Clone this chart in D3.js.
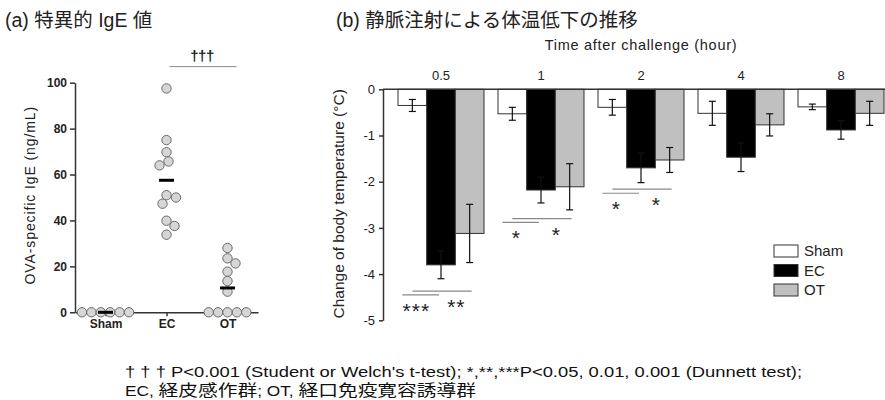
<!DOCTYPE html>
<html>
<head>
<meta charset="utf-8">
<script src="https://cdn.jsdelivr.net/npm/d3@7"></script>
<style>
  html, body { margin: 0; padding: 0; background: #fff; }
  svg { display: block; font-family: "Liberation Sans", Arial, "Noto Sans CJK JP", sans-serif; }
</style>
</head>
<body>
<svg id="chart" width="885" height="400"></svg>
<script>
// (a) OVA-specific IgE, one value per animal
const igeGroups = ["Sham", "EC", "OT"];
const igeSham = [0, 0, 0, 0, 0, 0];
const igeEC = [97.5, 75, 69.7, 65.7, 64, 51, 50, 47.3, 39.9, 37.6, 33.8];
const igeOT = [28, 23.5, 21.3, 17.7, 13.6, 9, 0, 0, 0, 0, 0];
const igeMeans = [0, 57.5, 10.6];
const igeTicks = [0, 20, 40, 60, 80, 100];

// (b) change of body temperature after challenge
const hours = ["0.5", "1", "2", "4", "8"];
const series = ["Sham", "EC", "OT"];
const tempSham = [-0.35, -0.53, -0.39, -0.52, -0.38];
const tempEC = [-3.80, -2.18, -1.70, -1.47, -0.88];
const tempOT = [-3.12, -2.11, -1.53, -0.77, -0.52];
const semSham = [0.13, 0.14, 0.17, 0.26, 0.06];
const semEC = [0.30, 0.28, 0.32, 0.31, 0.20];
const semOT = [0.63, 0.50, 0.27, 0.24, 0.26];
const tempTicks = [0, -1, -2, -3, -4, -5];

// Dunnett comparisons vs Sham (bracket level in °C)
const sigHours = ["0.5", "0.5", "1", "1", "2", "2"];
const sigTarget = ["EC", "OT", "EC", "OT", "EC", "OT"];
const sigLabel = ["***", "**", "*", "*", "*", "*"];
const sigLevel = [-4.45, -4.37, -2.88, -2.80, -2.25, -2.16];

const svg = d3.select("#chart");
const ink = "#222";

// ---------- panel (a) ----------
svg.append("text")
  .attr("x", 5).attr("y", 27)
  .attr("font-size", 19.5).attr("fill", ink)
  .text("(a) 特異的 IgE 値");

const xa = d3.scalePoint().domain(igeGroups).range([75, 258]).padding(0.5);
const ya = d3.scaleLinear().domain([0, 100]).range([312.3, 82.7]);
const dotR = 4.7;

const gA = svg.append("g");

gA.append("g")
  .attr("transform", "translate(75,0)")
  .call(d3.axisLeft(ya).tickValues(igeTicks).tickSize(5).tickSizeOuter(0).tickPadding(3))
  .call((g) => g.selectAll("path,line").attr("stroke", "#333").attr("stroke-width", 1.5))
  .call((g) => g.selectAll("text").attr("font-size", 12).attr("fill", ink)
    .attr("font-family", "Liberation Sans, Arial").attr("font-weight", "bold"));

gA.append("g")
  .attr("transform", `translate(0,${ya(0)})`)
  .call(d3.axisBottom(xa).tickSize(4).tickSizeOuter(0).tickPadding(3))
  .call((g) => g.selectAll("path,line").attr("stroke", "#333").attr("stroke-width", 1.5))
  .call((g) => g.selectAll("text").attr("font-size", 12).attr("fill", ink)
    .attr("font-family", "Liberation Sans, Arial").attr("font-weight", "bold"));

gA.append("text")
  .attr("transform", `translate(35,${ya(51)}) rotate(-90)`)
  .attr("text-anchor", "middle")
  .attr("font-size", 14).attr("fill", ink)
  .attr("letter-spacing", 0.9)
  .text("OVA-specific IgE (ng/mL)");

// simple dot swarm: tied values in a centred row, others pushed sideways
const swarm = (values) => {
  const d = dotR * 2;
  const placed = [];
  const counts = d3.rollup(values, (v) => v.length, (v) => v);
  const seen = new Map();
  values.forEach((v) => {
    const n = counts.get(v);
    if (n > 1) {
      const k = seen.get(v) ?? 0;
      seen.set(v, k + 1);
      placed.push({ v, dx: (k - (n - 1) / 2) * d });
    }
  });
  const singles = values.filter((v) => counts.get(v) === 1).sort((a, b) => b - a);
  let side = 1;
  singles.forEach((v) => {
    const py = ya(v);
    let best = 0;
    for (let off = 0; off < 40; off += 0.5) {
      const cands = off === 0 ? [0] : [off * side, -off * side];
      const ok = cands.find((c) => placed.every((p) => {
        const dy = ya(p.v) - py;
        const dx = p.dx - c;
        return dx * dx + dy * dy >= d * d - 0.5;
      }));
      if (ok !== undefined) { best = ok; break; }
    }
    if (best !== 0) side = -Math.sign(best);
    placed.push({ v, dx: best });
  });
  return placed;
};

[igeSham, igeEC, igeOT].forEach((vals, i) => {
  const cx = xa(igeGroups[i]);
  gA.append("g").selectAll("circle")
    .data(swarm(vals))
    .join("circle")
    .attr("cx", (p) => cx + p.dx)
    .attr("cy", (p) => ya(p.v))
    .attr("r", dotR)
    .attr("fill", "#d6d6d6")
    .attr("stroke", "#6a6a6a")
    .attr("stroke-width", 1);
});

gA.append("g").selectAll("line")
  .data(igeMeans)
  .join("line")
  .attr("x1", (m, i) => xa(igeGroups[i]) - 7.5)
  .attr("x2", (m, i) => xa(igeGroups[i]) + 7.5)
  .attr("y1", (m) => ya(m)).attr("y2", (m) => ya(m))
  .attr("stroke", "#000").attr("stroke-width", 3);

// EC vs OT t-test bracket
gA.append("line")
  .attr("x1", xa("EC") + 3).attr("x2", xa("OT") + 9)
  .attr("y1", ya(107)).attr("y2", ya(107))
  .attr("stroke", "#888").attr("stroke-width", 1);
gA.append("text")
  .attr("x", (xa("EC") + xa("OT")) / 2 + 5).attr("y", ya(109.5))
  .attr("text-anchor", "middle")
  .attr("font-size", 15).attr("font-weight", "bold").attr("fill", ink)
  .attr("letter-spacing", -0.5)
  .text("†††");

// ---------- panel (b) ----------
svg.append("text")
  .attr("x", 336).attr("y", 27)
  .attr("font-size", 19.5).attr("fill", ink)
  .text("(b) 静脈注射による体温低下の推移");

const xb = d3.scaleBand().domain(hours).range([391, 891]).paddingInner(0.14).paddingOuter(0.07);
const xs = d3.scaleBand().domain(series).range([0, xb.bandwidth()]);
const yb = d3.scaleLinear().domain([0, -5]).range([89.3, 320.3]);
const fills = { Sham: "#ffffff", EC: "#000000", OT: "#c0c0c0" };
const means = { Sham: tempSham, EC: tempEC, OT: tempOT };
const sems = { Sham: semSham, EC: semEC, OT: semOT };

const gB = svg.append("g");

gB.append("text")
  .attr("x", 641).attr("y", 50)
  .attr("text-anchor", "middle")
  .attr("font-size", 14.5).attr("fill", ink)
  .attr("letter-spacing", 0.7)
  .text("Time after challenge (hour)");

const rows = hours.flatMap((h, i) => series.map((s) => ({
  h, s, v: means[s][i], e: sems[s][i]
})));

gB.append("g").selectAll("rect")
  .data(rows)
  .join("rect")
  .attr("x", (d) => xb(d.h) + xs(d.s))
  .attr("y", yb(0))
  .attr("width", xs.bandwidth())
  .attr("height", (d) => yb(d.v) - yb(0))
  .attr("fill", (d) => fills[d.s])
  .attr("stroke", "#333")
  .attr("stroke-width", 1);

const cap = 3.5;
const eb = gB.append("g").attr("stroke", "#111").attr("stroke-width", 1.2);
rows.forEach((d) => {
  const cx = xb(d.h) + xs(d.s) + xs.bandwidth() / 2;
  const top = yb(d.v + d.e);
  const bot = yb(d.v - d.e);
  eb.append("line").attr("x1", cx).attr("x2", cx).attr("y1", top).attr("y2", bot);
  eb.append("line").attr("x1", cx - cap).attr("x2", cx + cap).attr("y1", top).attr("y2", top);
  eb.append("line").attr("x1", cx - cap).attr("x2", cx + cap).attr("y1", bot).attr("y2", bot);
});

// zero line along the top, with hour labels above
gB.append("line")
  .attr("x1", 383).attr("x2", 885)
  .attr("y1", yb(0)).attr("y2", yb(0))
  .attr("stroke", "#333").attr("stroke-width", 1.5);

gB.append("g").selectAll("text")
  .data(hours)
  .join("text")
  .attr("x", (h) => xb(h) + xb.bandwidth() / 2)
  .attr("y", 80)
  .attr("text-anchor", "middle")
  .attr("font-size", 13).attr("fill", ink)
  .text((h) => h);

gB.append("g")
  .attr("transform", "translate(383,0)")
  .call(d3.axisLeft(yb).tickValues(tempTicks).tickFormat((t) => String(t)).tickSize(4).tickSizeOuter(0).tickPadding(4))
  .call((g) => g.selectAll("path,line").attr("stroke", "#333").attr("stroke-width", 1.5))
  .call((g) => g.selectAll("text").attr("font-size", 13).attr("fill", ink)
    .attr("font-family", "Liberation Sans, Arial"));

gB.append("text")
  .attr("transform", `translate(344,${yb(-2.48)}) rotate(-90)`)
  .attr("text-anchor", "middle")
  .attr("font-size", 15.5).attr("fill", ink)
  .text("Change of body temperature (°C)");

// significance brackets
const sig = sigHours.map((h, i) => ({ h, t: sigTarget[i], lab: sigLabel[i], lv: sigLevel[i] }));
const subC = (h, s) => xb(h) + xs(s) + xs.bandwidth() / 2;
sig.forEach((d) => {
  const x1 = d.t === "EC" ? subC(d.h, "Sham") - 10 : subC(d.h, "Sham");
  const x2 = d.t === "EC" ? subC(d.h, "EC") - 2 : subC(d.h, "OT") + 2;
  const y = yb(d.lv);
  gB.append("line")
    .attr("x1", x1).attr("x2", x2).attr("y1", y).attr("y2", y)
    .attr("stroke", "#888").attr("stroke-width", 1.2);
  const lx = d.t === "EC" ? subC(d.h, "Sham") + 4 : (subC(d.h, "EC") + subC(d.h, "OT")) / 2 + 1;
  gB.append("text")
    .attr("x", lx).attr("y", y + 23)
    .attr("text-anchor", "middle")
    .attr("font-size", 21).attr("fill", ink)
    .attr("letter-spacing", 1)
    .text(d.lab);
});

// legend
const lg = gB.append("g").attr("transform", "translate(774,245)");
series.forEach((s, i) => {
  lg.append("rect")
    .attr("x", 0).attr("y", i * 19.5)
    .attr("width", 24).attr("height", 12)
    .attr("fill", fills[s]).attr("stroke", "#333").attr("stroke-width", 1);
  lg.append("text")
    .attr("x", 30).attr("y", i * 19.5 + 6)
    .attr("dy", "0.35em")
    .attr("font-size", 15).attr("fill", ink)
    .text(s);
});

// ---------- footnote (the original text is stretched sideways) ----------
const foot = svg.append("g").attr("fill", "#111");
foot.append("text").attr("x", 125).attr("y", 376.5)
  .attr("font-size", 14)
  .attr("textLength", 677).attr("lengthAdjust", "spacingAndGlyphs")
  .text("† † † P<0.001 (Student or Welch's t-test); *,**,***P<0.05,  0.01, 0.001 (Dunnett test);");
const line2 = foot.append("text").attr("x", 125).attr("y", 396)
  .attr("font-size", 14)
  .attr("textLength", 351).attr("lengthAdjust", "spacingAndGlyphs");
[["EC, ", 14], ["経皮感作群", 16], ["; OT, ", 14], ["経口免疫寛容誘導群", 16]].forEach(([t, fs]) => {
  line2.append("tspan").attr("font-size", fs).text(t);
});
</script>
</body>
</html>
